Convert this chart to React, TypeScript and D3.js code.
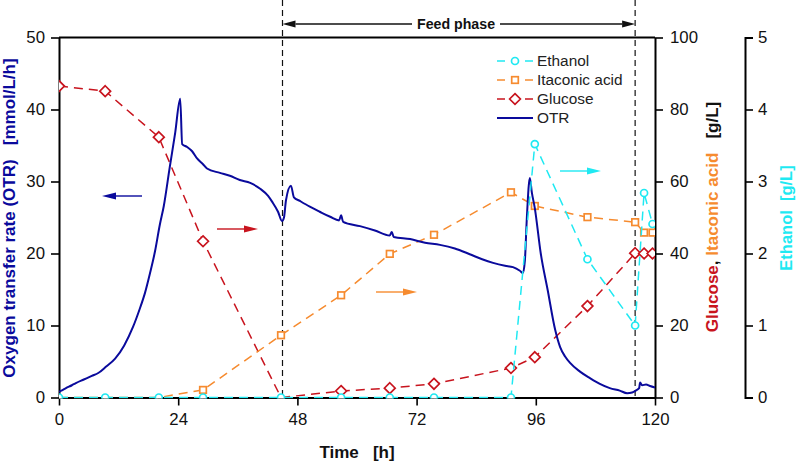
import React, { useEffect, useRef } from "react";
import * as d3 from "d3";

const BLUE = "#0a0a9c";
const RED = "#c8141e";
const ORANGE = "#f68b2f";
const CYAN = "#1fe9f2";
const FONT = "'Liberation Sans', Arial, sans-serif";

// offline samples
const sampleTimes = [0, 9.3, 20.1, 29, 44.7, 56.8, 66.6, 75.5, 91, 95.8, 106.4, 116, 117.8, 119.5];
const glucose = [86.5, 85.1, 72.3, 43.4, 0, 1.8, 2.6, 3.8, 8.2, 11.2, 25.4, 40.1, 40, 40];
const itaconicAcid = [0, 0, 0, 2.1, 17.3, 28.4, 39.9, 45.2, 57, 53.2, 50.1, 48.7, 45.8, 45.8];
const ethanol = [0, 0, 0, 0, 0, 0, 0, 0, 0, 3.52, 1.92, 1.0, 2.84, 2.41];

// online OTR trace
const otrTimes = [
  0, 0.6, 1.4, 2.6, 3.4, 5, 6.6, 7.9, 9.5, 11.3, 13.1, 14.9, 16.3, 17.3, 18.3, 19.3, 20.3, 21.1, 22.3, 23.4,
  24.4, 24.8, 25.8, 26.8, 27.8, 29, 29.8, 32.4, 34.4, 36.4, 38.5, 40.5, 42.1, 42.9, 44.1, 44.9, 45.3, 45.7,
  46.7, 47.3, 48.5, 50.5, 52.5, 54.6, 56.4, 56.8, 57.2, 60.6, 63.6, 66.6, 67, 67.4, 70.7, 73.7, 76.7, 79.7,
  82.7, 85.2, 87.4, 89.8, 91.4, 92.8, 93.4, 93.8, 94.2, 94.8, 95.2, 95.8, 97, 98.4, 99.9, 100.9, 101.9, 102.9,
  104.9, 106.9, 108.9, 110.9, 112.9, 114.4, 115.4, 116.2, 116.8, 117, 117.4, 118.2, 119, 120,
];
const otrValues = [
  0.8, 1.0, 1.3, 1.7, 2.0, 2.5, 3.0, 3.4, 4.3, 5.4, 7.2, 9.8, 12.4, 14.5, 17.2, 20.2, 24, 26.6, 32, 36.8,
  41.5, 35.2, 34.8, 34.2, 33.2, 32.4, 31.8, 31.2, 30.8, 30.2, 29.8, 29, 28, 27.2, 25.8, 24.5, 25, 27.4,
  29.4, 27.8, 27.3, 26.5, 25.8, 25.1, 24.6, 25.3, 24.4, 23.8, 23.2, 22.5, 23.0, 22.3, 22, 21.5, 21.2, 20.7,
  19.9, 19.2, 18.7, 18.3, 18.1, 17.6, 17.3, 19, 25, 30.5, 28.5, 26.3, 20, 14.9, 9.4, 7, 5.7, 4.8,
  3.6, 2.7, 1.9, 1.3, 0.95, 0.6, 0.7, 1.0, 1.3, 2.1, 1.7, 1.8, 1.6, 1.4,
];

const feedPhase = [45, 116];
const xTicks = [0, 24, 48, 72, 96, 120];
const otrTicks = [0, 10, 20, 30, 40, 50];
const concTicks = [0, 20, 40, 60, 80, 100];
const ethanolTicks = [0, 1, 2, 3, 4, 5];

const legendItems = [
  { label: "Ethanol", color: CYAN, marker: "circle" },
  { label: "Itaconic acid", color: ORANGE, marker: "square" },
  { label: "Glucose", color: RED, marker: "diamond" },
  { label: "OTR", color: BLUE, marker: "none" },
];

const width = 797;
const height = 464;
const margin = { top: 37.5, right: 142, bottom: 66.5, left: 59 };

export default function App() {
  const svgRef = useRef<SVGSVGElement | null>(null);

  useEffect(() => {
    const svg = d3.select(svgRef.current);
    svg.selectAll("*").remove();
    svg.style("font-family", FONT);

    const xScale = d3.scaleLinear().domain([0, 120]).range([margin.left, width - margin.right]);
    const otrScale = d3.scaleLinear().domain([0, 50]).range([height - margin.bottom, margin.top]);
    const concScale = d3.scaleLinear().domain([0, 100]).range([height - margin.bottom, margin.top]);
    const ethanolScale = d3.scaleLinear().domain([0, 5]).range([height - margin.bottom, margin.top]);
    const plotRight = width - margin.right;
    const plotBottom = height - margin.bottom;

    const defs = svg.append("defs");
    defs
      .append("clipPath")
      .attr("id", "plot-clip")
      .append("rect")
      .attr("x", margin.left)
      .attr("y", margin.top)
      .attr("width", plotRight - margin.left)
      .attr("height", plotBottom - margin.top + 1);

    // Axes
    const styleAxis = (g: any) => {
      g.selectAll("path").attr("stroke", "#000").attr("stroke-width", 2);
      g.selectAll("line").attr("stroke", "#000").attr("stroke-width", 1.6);
      g.selectAll("text").attr("font-size", 16.8).attr("font-family", FONT).attr("fill", "#111");
    };

    svg
      .append("line")
      .attr("x1", margin.left)
      .attr("x2", plotRight)
      .attr("y1", margin.top)
      .attr("y2", margin.top)
      .attr("stroke", "#000")
      .attr("stroke-width", 2);

    svg
      .append("g")
      .attr("transform", `translate(0,${plotBottom})`)
      .call(d3.axisBottom(xScale).tickValues(xTicks).tickSize(8).tickSizeOuter(0).tickPadding(8))
      .call(styleAxis);

    svg
      .append("g")
      .attr("transform", `translate(${margin.left},0)`)
      .call(d3.axisLeft(otrScale).tickValues(otrTicks).tickSize(8).tickSizeOuter(0).tickPadding(6))
      .call(styleAxis);

    svg
      .append("g")
      .attr("transform", `translate(${plotRight},0)`)
      .call(d3.axisRight(concScale).tickValues(concTicks).tickSize(8).tickSizeOuter(0).tickPadding(7))
      .call(styleAxis);

    svg
      .append("g")
      .attr("transform", "translate(745,0)")
      .call(d3.axisRight(ethanolScale).tickValues(ethanolTicks).tickFormat(d3.format("d")).tickSize(8).tickSizeOuter(8).tickPadding(5))
      .call(styleAxis);

    // Feed phase markers
    feedPhase.forEach((t) => {
      svg
        .append("line")
        .attr("x1", xScale(t))
        .attr("x2", xScale(t))
        .attr("y1", 0)
        .attr("y2", plotBottom)
        .attr("stroke", "#111")
        .attr("stroke-width", 1.2)
        .attr("stroke-dasharray", "6,4");
    });

    const arrow = (x1: number, x2: number, y: number, color: string, len = 14) => {
      const dir = x2 > x1 ? 1 : -1;
      svg
        .append("line")
        .attr("x1", x1)
        .attr("x2", x2 - dir * len)
        .attr("y1", y)
        .attr("y2", y)
        .attr("stroke", color)
        .attr("stroke-width", 1.4);
      svg
        .append("path")
        .attr("d", `M${x2},${y}L${x2 - dir * len},${y - 3.5}L${x2 - dir * len},${y + 3.5}Z`)
        .attr("fill", color);
    };

    arrow(412, xScale(feedPhase[0]), 24, "#111", 13);
    arrow(500, xScale(feedPhase[1]), 24, "#111", 13);
    svg
      .append("text")
      .attr("x", 456)
      .attr("y", 29)
      .attr("text-anchor", "middle")
      .attr("font-size", 14.2)
      .attr("font-weight", "bold")
      .attr("fill", "#111")
      .text("Feed phase");

    arrow(142, 102, 196, BLUE);
    arrow(217, 258, 229, RED);
    arrow(376, 417, 292, ORANGE);
    arrow(560, 601, 171, CYAN);

    const marks = svg.append("g").attr("clip-path", "url(#plot-clip)");

    const drawMarker = (g: any, x: number, y: number, kind: string, color: string) => {
      if (kind === "circle") {
        g.append("circle").attr("cx", x).attr("cy", y).attr("r", 3.5).attr("fill", "#fff").attr("stroke", color).attr("stroke-width", 1.7);
      } else if (kind === "square") {
        g.append("rect").attr("x", x - 3.3).attr("y", y - 3.3).attr("width", 6.6).attr("height", 6.6).attr("fill", "#fff").attr("stroke", color).attr("stroke-width", 1.7);
      } else if (kind === "diamond") {
        g.append("path").attr("d", `M${x},${y - 5.4}L${x + 5.4},${y}L${x},${y + 5.4}L${x - 5.4},${y}Z`).attr("fill", "#fff").attr("stroke", color).attr("stroke-width", 1.7);
      }
    };

    // Series, oldest layer first. Zero points of the acids sit hidden under the ethanol markers.
    const drawSeries = (values: number[], scale: d3.ScaleLinear<number, number>, color: string, kind: string) => {
      const line = d3
        .line<number>()
        .x((_, i) => xScale(sampleTimes[i]))
        .y((d) => scale(d));
      marks
        .append("path")
        .attr("d", line(values))
        .attr("fill", "none")
        .attr("stroke", color)
        .attr("stroke-width", 1.5)
        .attr("stroke-dasharray", "9,6");
      values.forEach((d, i) => {
        if (d > 0 || kind === "circle") drawMarker(marks, xScale(sampleTimes[i]), scale(d), kind, color);
      });
    };

    drawSeries(glucose, concScale, RED, "diamond");
    drawSeries(itaconicAcid, concScale, ORANGE, "square");

    const otrLine = d3
      .line<number>()
      .x((_, i) => xScale(otrTimes[i]))
      .y((d) => otrScale(d))
      .curve(d3.curveMonotoneX);
    marks
      .append("path")
      .attr("d", otrLine(otrValues))
      .attr("fill", "none")
      .attr("stroke", BLUE)
      .attr("stroke-width", 2);

    drawSeries(ethanol, ethanolScale, CYAN, "circle");

    // Legend
    const legend = svg.append("g");
    legendItems.forEach((item, i) => {
      const y = 61 + i * 19;
      if (item.marker === "none") {
        legend.append("line").attr("x1", 497).attr("x2", 533).attr("y1", y).attr("y2", y).attr("stroke", item.color).attr("stroke-width", 1.8);
      } else {
        legend.append("line").attr("x1", 497).attr("x2", 505).attr("y1", y).attr("y2", y).attr("stroke", item.color).attr("stroke-width", 1.5);
        legend.append("line").attr("x1", 525).attr("x2", 533).attr("y1", y).attr("y2", y).attr("stroke", item.color).attr("stroke-width", 1.5);
        drawMarker(legend, 515, y, item.marker, item.color);
      }
      legend
        .append("text")
        .attr("x", 537)
        .attr("y", y + 5)
        .attr("font-size", 15.4)
        .attr("fill", "#222")
        .text(item.label);
    });

    // Axis titles
    svg
      .append("text")
      .attr("x", 357)
      .attr("y", 458)
      .attr("text-anchor", "middle")
      .attr("font-size", 17)
      .attr("font-weight", "bold")
      .attr("fill", "#111")
      .style("white-space", "pre")
      .text("Time   [h]");

    const rotated = (x: number, y: number, size = 17) =>
      svg
        .append("text")
        .attr("transform", `translate(${x},${y}) rotate(-90)`)
        .attr("text-anchor", "middle")
        .attr("font-size", size)
        .attr("font-weight", "bold")
        .style("white-space", "pre");

    rotated(15, 218).attr("fill", BLUE).text("Oxygen transfer rate (OTR)   [mmol/L/h]");

    const conc = rotated(718, 217);
    conc.append("tspan").attr("fill", RED).text("Glucose");
    conc.append("tspan").attr("fill", "#111").text(", ");
    conc.append("tspan").attr("fill", ORANGE).text("Itaconic acid");
    conc.append("tspan").attr("fill", "#111").text("   [g/L]");

    rotated(792, 218, 16.5).attr("fill", CYAN).text("Ethanol  [g/L]");
  }, []);

  return (
    <svg
      ref={svgRef}
      width={width}
      height={height}
      style={{ position: "absolute", left: 0, top: 0, background: "#fff" }}
    />
  );
}
